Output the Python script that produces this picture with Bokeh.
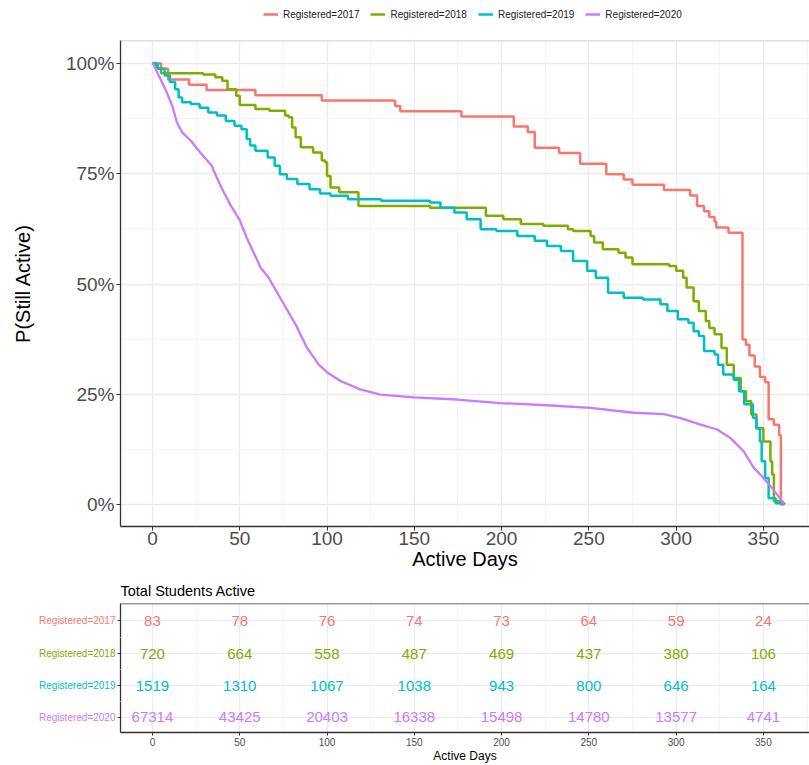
from bokeh.plotting import figure
from bokeh.models import (FixedTicker, Legend, LegendItem, Range1d, LinearAxis,
                          NumeralTickFormatter, Span)
from bokeh.layouts import column
from bokeh.embed import file_html
from bokeh.resources import INLINE
from bokeh.core.properties import value

FONT = "Liberation Sans"

groups = ["Registered=2017", "Registered=2018", "Registered=2019", "Registered=2020"]
colors = ["#F8766D", "#7CAE00", "#00BFC4", "#C77CFF"]

# Kaplan-Meier style survival estimates
days_2017 = [0, 5, 9, 21, 31, 59, 97, 139, 142, 177, 207, 215, 219, 233, 245, 260, 270,
             275, 293, 308, 312, 316, 319, 322, 323, 330, 338, 340, 342, 345, 348, 351,
             353, 356, 359, 360, 362]
surv_2017 = [1.0, 0.988, 0.964, 0.952, 0.940, 0.928, 0.916, 0.904, 0.892, 0.880, 0.857,
             0.845, 0.809, 0.797, 0.773, 0.749, 0.737, 0.725, 0.713, 0.701, 0.677, 0.665,
             0.652, 0.641, 0.628, 0.616, 0.374, 0.362, 0.338, 0.313, 0.289, 0.277, 0.193,
             0.181, 0.157, 0.0, 0.0]

days_2018 = [0, 2, 5, 29, 36, 40, 43, 48, 50, 59, 67, 76, 78, 80, 82, 85, 92, 97, 99, 100,
             102, 107, 118, 159, 191, 201, 211, 224, 238, 241, 251, 253, 258, 267, 271,
             275, 296, 300, 304, 306, 310, 313, 317, 319, 322, 326, 329, 333, 337, 340,
             343, 346, 350, 354, 355, 356, 361]
surv_2018 = [1.0, 0.990, 0.978, 0.975, 0.969, 0.961, 0.942, 0.927, 0.906, 0.897, 0.893,
             0.882, 0.878, 0.855, 0.833, 0.810, 0.798, 0.780, 0.776, 0.745, 0.719, 0.708,
             0.677, 0.673, 0.655, 0.647, 0.636, 0.632, 0.624, 0.620, 0.609, 0.594, 0.579,
             0.571, 0.560, 0.545, 0.541, 0.530, 0.514, 0.492, 0.461, 0.439, 0.416, 0.400,
             0.386, 0.355, 0.317, 0.287, 0.257, 0.234, 0.204, 0.173, 0.143, 0.098, 0.068,
             0.007, 0.0]

days_2019 = [0, 3, 7, 10, 13, 15, 17, 22, 27, 32, 37, 42, 47, 51, 54, 56, 59, 66, 70, 73,
             77, 83, 90, 96, 102, 112, 131, 159, 165, 173, 180, 188, 197, 209, 219, 226,
             234, 241, 249, 254, 261, 270, 281, 291, 295, 301, 307, 310, 313, 316, 322,
             324, 327, 333, 336, 339, 344, 346, 348, 349, 351, 353, 357, 362]
surv_2019 = [1.0, 0.988, 0.973, 0.958, 0.942, 0.923, 0.912, 0.908, 0.900, 0.889, 0.882,
             0.870, 0.859, 0.851, 0.829, 0.814, 0.802, 0.787, 0.768, 0.749, 0.738, 0.727,
             0.715, 0.705, 0.700, 0.692, 0.689, 0.685, 0.673, 0.662, 0.647, 0.624, 0.620,
             0.609, 0.598, 0.586, 0.575, 0.552, 0.530, 0.514, 0.480, 0.469, 0.465, 0.454,
             0.439, 0.420, 0.412, 0.393, 0.382, 0.348, 0.340, 0.317, 0.295, 0.283, 0.257,
             0.227, 0.196, 0.173, 0.143, 0.098, 0.060, 0.014, 0.003, 0.0]

days_2020 = [0, 1, 3.6, 7.4, 11.3, 14, 17, 22, 27, 34, 36, 40, 45, 50, 54, 62, 66.6, 74.3,
             82, 88.6, 95.3, 100, 107.7, 119, 130.6, 149.7, 174.5, 199.3, 226, 251, 275.7,
             293, 302.5, 314, 323.5, 331, 338.8, 344.5, 349.2, 355, 361.6, 362.5]
surv_2020 = [1.0, 0.995, 0.973, 0.942, 0.905, 0.867, 0.844, 0.825, 0.800, 0.768, 0.749,
             0.715, 0.677, 0.645, 0.605, 0.537, 0.514, 0.461, 0.408, 0.355, 0.317, 0.300,
             0.280, 0.261, 0.249, 0.243, 0.238, 0.230, 0.225, 0.219, 0.208, 0.205, 0.196,
             0.181, 0.170, 0.151, 0.120, 0.083, 0.064, 0.037, 0.003, 0.0]

# Number at risk table
risk_days = [0, 50, 100, 150, 200, 250, 300, 350]
risk_2017 = [83, 78, 76, 74, 73, 64, 59, 24]
risk_2018 = [720, 664, 558, 487, 469, 437, 380, 106]
risk_2019 = [1519, 1310, 1067, 1038, 943, 800, 646, 164]
risk_2020 = [67314, 43425, 20403, 16338, 15498, 14780, 13577, 4741]

x_ticks = [0, 50, 100, 150, 200, 250, 300, 350]
x_minor = [25, 75, 125, 175, 225, 275, 325, 375]
y_ticks = [0, 0.25, 0.5, 0.75, 1.0]
y_minor = [0.125, 0.375, 0.625, 0.875]

all_days = [days_2017, days_2018, days_2019, days_2020]
all_surv = [surv_2017, surv_2018, surv_2019, surv_2020]
all_risk = [risk_2017, risk_2018, risk_2019, risk_2020]

AX = "#333333"
TICKLAB = "#4D4D4D"
GRID = "#EBEBEB"
GRID_MINOR = "#F4F4F4"

X0, X1 = -18.3, 376.4          # panel x limits (days)
LEFT = 120                       # left margin in px

# ---------------- legend strip ----------------
# the legend's own renderers hold the real series, but lie outside this strip's view
lg = figure(width=809, height=30, x_range=Range1d(-20, -19), y_range=Range1d(0, 1),
            output_backend="svg", toolbar_location=None,
            x_axis_location=None, y_axis_location=None,
            min_border_left=LEFT, min_border_right=0, min_border_top=0, min_border_bottom=0)
lg.outline_line_color = None
lg.grid.visible = False
lg_r = [lg.line(d, s, line_color=c, line_width=2.5) for d, s, c in zip(all_days, all_surv, colors)]
legend = Legend(items=[LegendItem(label=g, renderers=[r]) for g, r in zip(groups, lg_r)],
                orientation="horizontal", location=(143, 10),
                label_text_font=FONT, label_text_font_size="10px", label_text_color="#222222",
                glyph_width=15, glyph_height=12, label_height=12, label_standoff=5, spacing=11,
                padding=0, margin=0, border_line_color=None, background_fill_alpha=0)
lg.add_layout(legend)

# ---------------- survival plot ----------------
p = figure(width=809, height=546, x_range=Range1d(X0, X1), y_range=Range1d(-0.050, 1.0523),
           output_backend="svg", toolbar_location=None,
           min_border_left=LEFT, min_border_right=0, min_border_top=10, min_border_bottom=50)
p.outline_line_color = None
p.add_layout(Span(location=p.y_range.end, dimension="width", line_color="#BDBDBD", line_width=1.5))

p.step(days_2017, surv_2017, mode="after", line_color=colors[0], line_width=2.5)
p.step(days_2018, surv_2018, mode="after", line_color=colors[1], line_width=2.5)
p.step(days_2019, surv_2019, mode="after", line_color=colors[2], line_width=2.5)
p.line(days_2020, surv_2020, line_color=colors[3], line_width=2.3)

for ax in (p.xaxis[0], p.yaxis[0]):
    ax.axis_line_color = AX
    ax.axis_line_width = 1.3
    ax.major_tick_line_color = AX
    ax.major_tick_in = 0
    ax.major_tick_out = 4
    ax.minor_tick_line_color = None
    ax.major_label_text_font = FONT
    ax.major_label_text_font_size = "19px"
    ax.major_label_text_color = TICKLAB
    ax.axis_label_text_font = FONT
    ax.axis_label_text_font_size = "20px"
    ax.axis_label_text_font_style = "normal"
    ax.axis_label_text_color = "#000000"

p.xaxis.ticker = FixedTicker(ticks=x_ticks, minor_ticks=x_minor)
p.yaxis.ticker = FixedTicker(ticks=y_ticks, minor_ticks=y_minor)
p.yaxis.formatter = NumeralTickFormatter(format="0%")
p.xaxis.axis_label = "Active Days"
p.yaxis.axis_label = "P(Still Active)"
p.xaxis.major_label_standoff = 1
p.xaxis.axis_label_standoff = 0
p.yaxis.major_label_standoff = 2
p.yaxis.axis_label_standoff = 29

for g in (p.xgrid[0], p.ygrid[0]):
    g.grid_line_color = GRID
    g.grid_line_width = 1.3
    g.minor_grid_line_color = GRID_MINOR
    g.minor_grid_line_width = 1.0

# ---------------- risk table: one strip per group ----------------
row_pos = [4, 3, 2, 1]
Y_LO, Y_HI = 0.4, 4.6
strip_heights = [61, 32, 32, 64]
tables = []
for i, (g, c, counts, rp, h) in enumerate(zip(groups, colors, all_risk, row_pos, strip_heights)):
    first = i == 0
    last = i == len(groups) - 1
    y_range = Range1d(max(rp - 0.5, Y_LO), min(rp + 0.5, Y_HI))
    t = figure(width=809, height=h, x_range=p.x_range, y_range=y_range,
               output_backend="svg", toolbar_location=None,
               x_axis_location="below" if last else None, y_axis_location=None,
               min_border_left=LEFT, min_border_right=0,
               min_border_top=26 if first else 0, min_border_bottom=30 if last else 0,
               title="Total Students Active" if first else None)
    t.outline_line_color = None
    # grids: vertical at the day ticks, one horizontal line through the row
    t.xgrid.ticker = FixedTicker(ticks=x_ticks, minor_ticks=x_minor)
    t.xgrid.grid_line_color = GRID
    t.xgrid.grid_line_width = 1.2
    t.xgrid.minor_grid_line_color = GRID_MINOR
    t.xgrid.minor_grid_line_width = 1.0
    t.ygrid.ticker = FixedTicker(ticks=[rp])
    t.ygrid.grid_line_color = GRID
    t.ygrid.grid_line_width = 1.2
    t.ygrid.minor_grid_line_color = None

    t.text(x=risk_days, y=[rp] * len(risk_days), text=[str(v) for v in counts],
           text_color=c, text_align="center", text_baseline="middle",
           text_font=value(FONT), text_font_size="15px")

    yax = LinearAxis(ticker=FixedTicker(ticks=[rp]), major_label_overrides={rp: g})
    yax.axis_line_color = AX
    yax.axis_line_width = 1.3
    yax.major_tick_line_color = AX
    yax.major_tick_in = 0
    yax.major_tick_out = 3
    yax.minor_tick_line_color = None
    yax.major_label_standoff = 2
    yax.major_label_text_font = FONT
    yax.major_label_text_font_size = "10px"
    yax.major_label_text_color = c
    t.add_layout(yax, "left")

    if first:
        t.title.text_font = FONT
        t.title.text_font_size = "14.5px"
        t.title.text_font_style = "normal"
        t.title.text_color = "#000000"
        t.title.align = "left"
        t.title.offset = 0
        t.title.standoff = 9
        t.add_layout(Span(location=y_range.end, dimension="width", line_color=AX, line_width=1.3))
    if last:
        ax = t.xaxis[0]
        ax.axis_line_color = AX
        ax.axis_line_width = 1.3
        ax.major_tick_line_color = AX
        ax.major_tick_in = 0
        ax.major_tick_out = 3
        ax.minor_tick_line_color = None
        ax.major_label_text_font = FONT
        ax.major_label_text_font_size = "10px"
        ax.major_label_text_color = TICKLAB
        ax.axis_label_text_font = FONT
        ax.axis_label_text_font_size = "12px"
        ax.axis_label_text_font_style = "normal"
        ax.axis_label_text_color = "#000000"
        ax.ticker = FixedTicker(ticks=x_ticks, minor_ticks=x_minor)
        ax.axis_label = "Active Days"
        ax.major_label_standoff = 1
        ax.axis_label_standoff = 0
    tables.append(t)

layout = column(lg, p, *tables, spacing=0)
open("out.html", "w").write(file_html(layout, INLINE))
